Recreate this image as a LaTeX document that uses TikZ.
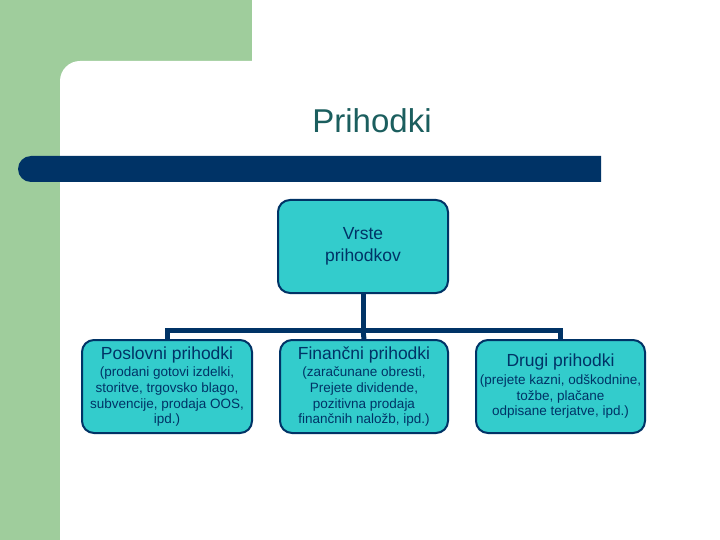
\documentclass[tikz,border=0pt]{standalone}
\usepackage{fontspec}
\setmainfont{Liberation Sans}
\definecolor{greenbg}{HTML}{9FCD9C}
\definecolor{navy}{HTML}{003366}
\definecolor{teal1}{HTML}{33CCCC}
\definecolor{titlec}{HTML}{1B5E5E}
\tikzset{
  box/.style={draw=navy, line width=2pt, fill=teal1, rounded corners=12pt,
    minimum width=170pt, minimum height=93pt, align=center, text=navy, inner sep=1pt,
    font=\fontsize{13.5}{15.7}\selectfont},
  conn/.style={draw=navy, line width=5pt}
}
\newcommand{\hdtext}[1]{{\fontsize{17.5}{18}\selectfont #1}}
\begin{document}
\begin{tikzpicture}[x=1pt,y=-1pt]
\useasboundingbox (0,0) rectangle (720,540);
% background
\fill[greenbg] (0,0) rectangle (252,81);
\fill[greenbg] (0,0) rectangle (80,540);
\fill[white] (720,540) -- (60,540) {[rounded corners=20pt] -- (60,61) -- (720,61)} -- cycle;
% title bar
\fill[navy] (601,156) -- (31,156) arc[start angle=90, end angle=270, radius=13pt] -- (601,182) -- cycle;
\node[text=titlec, font=\fontsize{33}{38}\selectfont] (title) at (372,121) {Prihodki};
% nodes
\node[box, font=\fontsize{17.5}{22}\selectfont, minimum width=170pt] (root) at (363,246.5) {Vrste\\prihodkov};
\coordinate (j) at (363,330);
\node[box, minimum width=170pt] (c1) at (167,386.5) {\hdtext{Poslovni prihodki}\\[2pt]
  (prodani gotovi izdelki,\\storitve, trgovsko blago,\\subvencije, prodaja OOS,\\ipd.)};
\node[box, minimum width=168pt] (c2) at (364,386.5) {\hdtext{Finančni prihodki}\\[2pt]
  (zaračunane obresti,\\Prejete dividende,\\pozitivna prodaja\\finančnih naložb, ipd.)};
\node[box, minimum width=169pt] (c3) at (560.5,386.5) {\hdtext{Drugi prihodki}\\[2pt]
  (prejete kazni, odškodnine,\\tožbe, plačane\\odpisane terjatve, ipd.)};
% connectors
\draw[conn] (root.south) -- (j);
\draw[conn] (j) -| (c1.north);
\draw[conn] (j) -| (c3.north);
\draw[conn] (j) -- (c2.north);
\end{tikzpicture}
\end{document}
